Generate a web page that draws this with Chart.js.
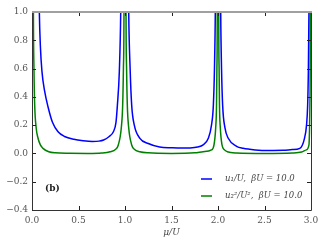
<!DOCTYPE html>
<html>
<head>
<meta charset="utf-8">
<script src="https://cdn.jsdelivr.net/npm/chart.js@4/dist/chart.umd.min.js"></script>
<style>
html,body{margin:0;padding:0;background:#fff;}
#wrap{width:325px;height:245px;position:relative;}
</style>
</head>
<body>
<div id="wrap"><canvas id="c"></canvas></div>
<script>
// u1/U, blue curve
const muBlue = [0.06,0.079,0.09,0.107,0.136,0.172,0.22,0.28,0.35,0.45,0.55,0.65,0.72,0.77,0.83,0.875,0.903,0.918,0.939,0.954,0.975,0.998,
  1.02,1.04,1.055,1.072,1.1,1.16,1.25,1.373,1.5,1.6,1.7,1.78,1.84,1.896,1.93,1.95,1.962,1.971,1.985,2.0,
  2.015,2.029,2.038,2.05,2.075,2.11,2.2,2.27,2.4,2.55,2.7,2.8,2.88,2.93,2.952,2.964,2.972,2.978,2.99,3.0];
const u1 = [2.0,1.0,0.76,0.58,0.44,0.33,0.22,0.153,0.12,0.1,0.09,0.085,0.087,0.095,0.12,0.153,0.22,0.34,0.58,1.0,2.5,8,
  2.5,1.0,0.6,0.34,0.2,0.107,0.07,0.045,0.04,0.038,0.039,0.045,0.06,0.107,0.2,0.34,0.6,1.0,2.5,8,
  2.5,1.0,0.6,0.34,0.18,0.107,0.05,0.036,0.025,0.021,0.022,0.027,0.036,0.107,0.2,0.34,0.6,1.0,2.5,8];
// u2^2/U^2, green curve
const muGreen = [0.0,0.015,0.021,0.029,0.045,0.065,0.09,0.118,0.18,0.25,0.4,0.6,0.75,0.84,0.9,0.928,0.96,0.975,0.983,0.989,0.995,1.0,
  1.005,1.011,1.017,1.025,1.04,1.072,1.1,1.16,1.25,1.5,1.75,1.84,1.93,1.957,1.975,1.984,1.988,1.992,2.0,
  2.008,2.012,2.016,2.025,2.043,2.07,2.1,2.2,2.5,2.8,2.9,2.95,2.978,2.988,2.993,3.0];
const u2sq = [5,1.0,0.6,0.34,0.18,0.107,0.06,0.036,0.012,0.004,0.001,0.0,0.003,0.012,0.03,0.06,0.18,0.34,0.6,1.0,3,8,
  3,1.0,0.6,0.34,0.18,0.06,0.03,0.012,0.004,0.0,0.004,0.012,0.025,0.06,0.18,0.34,0.6,1.0,8,
  1.0,0.6,0.34,0.18,0.06,0.025,0.012,0.003,0.0,0.003,0.01,0.025,0.06,0.34,1.0,8];
const xTicks = [0.0,0.5,1.0,1.5,2.0,2.5,3.0];
const yTicks = [-0.4,-0.2,0.0,0.2,0.4,0.6,0.8,1.0];
const labels = ["u\u2081/U,  \u03b2U = 10.0", "u\u2082\u00b2/U\u00b2,  \u03b2U = 10.0"];

const serif = "'DejaVu Serif','Liberation Serif',serif";
const pts = (xs,ys)=>xs.map((x,i)=>({x,y:ys[i]}));
const fmt = v=>(v<0?"\u2212":"")+Math.abs(v).toFixed(1);

const frame = {
  id:"frame",
  afterDatasetsDraw(ch){
    const {ctx,chartArea:a,scales:{x,y}} = ch;
    ctx.save();
    ctx.strokeStyle="#222"; ctx.lineWidth=1;
    ctx.beginPath();
    xTicks.forEach(v=>{const px=Math.round(x.getPixelForValue(v))+.5;
      ctx.moveTo(px,a.bottom); ctx.lineTo(px,a.bottom-4); ctx.moveTo(px,a.top); ctx.lineTo(px,a.top+4);});
    yTicks.forEach(v=>{const py=Math.round(y.getPixelForValue(v))+.5;
      ctx.moveTo(a.left,py); ctx.lineTo(a.left+4,py); ctx.moveTo(a.right,py); ctx.lineTo(a.right-4,py);});
    ctx.stroke();
    ctx.strokeStyle="#333"; ctx.lineWidth=1;
    ctx.beginPath();
    ctx.moveTo(a.left+.5,a.top); ctx.lineTo(a.left+.5,a.bottom+.5); ctx.lineTo(a.right+.5,a.bottom+.5); ctx.lineTo(a.right+.5,a.top);
    ctx.stroke();
    ctx.strokeStyle="#a0a0a0"; ctx.lineWidth=2;
    ctx.beginPath(); ctx.moveTo(a.left,a.top); ctx.lineTo(a.right+1,a.top); ctx.stroke();
    // panel tag
    ctx.fillStyle="#222"; ctx.font="bold 9px "+serif; ctx.textBaseline="middle";
    ctx.fillText("(b)",45,189);
    // legend
    ch.data.datasets.forEach((d,i)=>{
      const ly=179+i*17;
      ctx.strokeStyle=d.borderColor; ctx.lineWidth=1.5;
      ctx.beginPath(); ctx.moveTo(201,ly); ctx.lineTo(212,ly); ctx.stroke();
      ctx.fillStyle="#444"; ctx.font="italic 8.5px "+serif;
      ctx.fillText(d.label,225,ly);
    });
    ctx.restore();
  }
};

new Chart(document.getElementById("c"),{
  type:"line",
  data:{datasets:[
    {label:labels[0],data:pts(muBlue,u1),borderColor:"#0000ff",borderWidth:1.5,pointRadius:0,cubicInterpolationMode:"monotone"},
    {label:labels[1],data:pts(muGreen,u2sq),borderColor:"#008000",borderWidth:1.5,pointRadius:0,cubicInterpolationMode:"monotone"}
  ]},
  options:{
    responsive:true,maintainAspectRatio:false,animation:false,
    layout:{padding:{left:0,top:12,right:14,bottom:0}},
    plugins:{legend:{display:false},tooltip:{enabled:false}},
    scales:{
      x:{type:"linear",min:0,max:3,border:{display:false},grid:{display:false,drawTicks:false,tickLength:0},
        afterBuildTicks(s){s.ticks=xTicks.map(v=>({value:v}));},
        afterFit(s){s.height=35;},
        ticks:{padding:5,maxRotation:0,color:"#555",font:{family:serif,size:9},callback:v=>v.toFixed(1)},
        title:{display:true,text:"\u03bc/U",color:"#444",padding:{top:1,bottom:7},font:{family:serif,size:9,style:"italic"}}},
      y:{min:-0.4,max:1.0,border:{display:false},grid:{display:false,drawTicks:false,tickLength:0},
        afterBuildTicks(s){s.ticks=yTicks.map(v=>({value:v}));},
        afterFit(s){s.width=32;},
        ticks:{padding:4,color:"#555",font:{family:serif,size:9},callback:v=>fmt(v)}}
    }
  },
  plugins:[frame]
});
</script>
</body>
</html>
